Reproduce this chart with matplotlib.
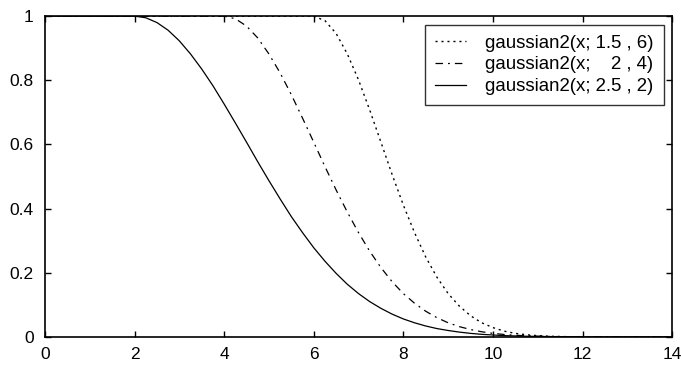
import matplotlib.pyplot as plt

# sample positions (x) and curve values
x = [0, 0.25, 0.5, 0.75, 1, 1.25, 1.5, 1.75, 2, 2.25, 2.5, 2.75, 3, 3.25, 3.5, 3.75,
     4, 4.25, 4.5, 4.75, 5, 5.25, 5.5, 5.75, 6, 6.25, 6.5, 6.75, 7, 7.25, 7.5, 7.75,
     8, 8.25, 8.5, 8.75, 9, 9.25, 9.5, 9.75, 10, 10.25, 10.5, 10.75, 11, 11.25, 11.5,
     11.75, 12, 12.25, 12.5, 12.75, 13, 13.25, 13.5, 13.75, 14]

y_dotted = [1, 1, 1, 1, 1, 1, 1, 1, 1, 1, 1, 1, 1, 1, 1, 1, 1, 1, 1, 1, 1, 1, 1, 1, 1,
            0.986, 0.946, 0.882, 0.801, 0.707, 0.607, 0.506, 0.411, 0.325, 0.249,
            0.186, 0.135, 0.096, 0.066, 0.044, 0.029, 0.018, 0.011, 0.0066, 0.0039,
            0.0022, 0.0012, 0.0006, 0.0003, 0, 0, 0, 0, 0, 0, 0, 0]
y_dashdot = [1, 1, 1, 1, 1, 1, 1, 1, 1, 1, 1, 1, 1, 1, 1, 1, 1,
             0.992, 0.969, 0.932, 0.882, 0.823, 0.755, 0.682, 0.607, 0.531, 0.458,
             0.389, 0.325, 0.267, 0.216, 0.172, 0.135, 0.105, 0.080, 0.060, 0.044,
             0.032, 0.023, 0.016, 0.011, 0.0076, 0.0051, 0.0034, 0.0022, 0.0014,
             0.0009, 0.0006, 0.0003, 0, 0, 0, 0, 0, 0, 0, 0]
y_solid = [1, 1, 1, 1, 1, 1, 1, 1, 1,
           0.995, 0.980, 0.956, 0.923, 0.882, 0.835, 0.783, 0.726, 0.667, 0.607,
           0.546, 0.487, 0.430, 0.375, 0.325, 0.278, 0.236, 0.198, 0.164, 0.135,
           0.110, 0.089, 0.071, 0.056, 0.044, 0.034, 0.026, 0.020, 0.015, 0.011,
           0.008, 0.006, 0.004, 0.003, 0.002, 0.0015, 0.001, 0.0007, 0.0005, 0.0003,
           0, 0, 0, 0, 0, 0, 0, 0]

labels = ['gaussian2(x; 1.5 , 6)',
          'gaussian2(x;    2 , 4)',
          'gaussian2(x; 2.5 , 2)']

plt.rcParams['font.family'] = ['Liberation Sans', 'DejaVu Sans']

fig = plt.figure(figsize=(6.81, 3.67), dpi=100)
ax = fig.add_axes([0.066, 0.082, 0.921, 0.874])

ax.plot(x, y_dotted, color='black', lw=1.0, linestyle=(0, (1.5, 2.8)), label=labels[0])
ax.plot(x, y_dashdot, color='black', lw=0.9, linestyle=(0, (6, 4, 1.5, 4)), label=labels[1])
ax.plot(x, y_solid, color='black', lw=0.9, linestyle='-', label=labels[2])

ax.set_xlim(0, 14)
ax.set_ylim(0, 1)
ax.set_xticks(range(0, 15, 2))
ax.set_yticks([0, 0.2, 0.4, 0.6, 0.8, 1])
ax.set_yticklabels(['0', '0.2', '0.4', '0.6', '0.8', '1'])
ax.tick_params(direction='in', top=True, right=True, length=4, width=1,
               labelsize=12.5, colors='black')
ax.tick_params(axis='y', pad=8)
ax.tick_params(axis='x', pad=7)
for s in ax.spines.values():
    s.set_linewidth(1.2)
    s.set_color('black')

leg = ax.legend(loc='upper right', fontsize=13.4, handlelength=1.7,
                frameon=True, fancybox=False, borderpad=0.55, labelspacing=0.25,
                handletextpad=1.0, borderaxespad=0.45)
leg.get_frame().set_edgecolor('black')
leg.get_frame().set_linewidth(1.0)

fig.savefig('out.png', dpi=100)
